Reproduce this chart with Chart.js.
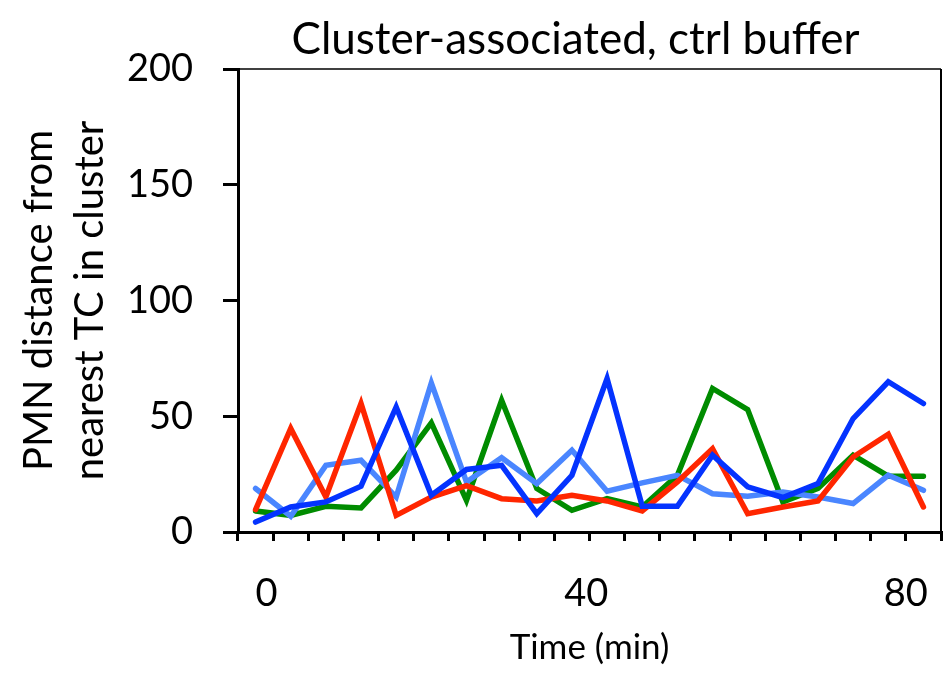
<!DOCTYPE html>
<html>
<head>
<meta charset="utf-8">
<script src="https://cdn.jsdelivr.net/npm/chart.js@4.4.1/dist/chart.umd.min.js"></script>
<style>
  html, body { margin: 0; padding: 0; background: #fff; }
  canvas { display: block; }
</style>
</head>
<body>
<canvas id="chart" width="944" height="677"></canvas>
<script>
// --- Dữ liệu ---
const chartTitle = "Cluster-associated, ctrl buffer";
const yTitle = ["PMN distance from", "nearest TC in cluster"];
const xTitle = "Time (min)";
const frames = ["1", "2", "3", "4", "5", "6", "7", "8", "9", "10", "11", "12", "13", "14", "15", "16", "17", "18", "19", "20"];
const timeTicks = [0, 40, 80];
const yTicks = [0, 50, 100, 150, 200];

const cellGreen = [9.1, 7.2, 11.1, 10.4, 26.7, 47.1, 13.7, 56.9, 18.8, 9.4, 14.4, 10.8, 24.5, 62.0, 52.9, 13.0, 18.8, 33.2, 24.1, 24.1];
const cellRed = [9.7, 44.7, 15.1, 55.5, 7.2, 15.1, 20.0, 14.4, 13.4, 15.9, 13.4, 9.1, 21.6, 36.0, 7.9, 10.8, 13.4, 32.4, 42.2, 10.8];
const cellSky = [18.8, 6.8, 28.8, 31.0, 15.1, 64.4, 21.6, 32.1, 20.9, 35.3, 17.6, 21.2, 24.5, 16.5, 15.4, 17.3, 15.1, 12.3, 24.5, 18.0];
const cellBlue = [4.3, 10.8, 13.0, 19.8, 54.0, 15.9, 27.0, 28.8, 7.9, 24.5, 66.3, 11.1, 11.1, 33.2, 19.5, 14.9, 20.9, 49.0, 64.9, 55.5];

// --- Kiểu ---
const FONT = "Lato";
const BLACK = "#000";

function line(data, color) {
    return {
        data, borderColor: color, backgroundColor: color, borderWidth: 5.5,
        pointRadius: 0, tension: 0, fill: false,
        borderJoinStyle: "miter", borderCapStyle: "round",
        xAxisID: "x", yAxisID: "y"
    };
}

// khung trên + phải, tiêu đề
const framePlugin = {
    id: "frame",
    afterDraw(chart) {
        const { ctx, chartArea: a } = chart;
        ctx.save();
        ctx.strokeStyle = BLACK;
        ctx.lineWidth = 1.5;
        ctx.beginPath();
        ctx.moveTo(a.left, a.top);
        ctx.lineTo(a.right, a.top);
        ctx.stroke();
        ctx.lineWidth = 2;
        ctx.beginPath();
        ctx.moveTo(a.right, a.top);
        ctx.lineTo(a.right, a.bottom);
        ctx.stroke();
        ctx.fillStyle = BLACK;
        ctx.font = "44px " + FONT;
        ctx.textAlign = "center";
        ctx.textBaseline = "middle";
        ctx.fillText(chartTitle, (a.left + a.right) / 2 - 14, 40);
        ctx.restore();
    }
};

const noPad = s => { s.paddingLeft = 0; s.paddingRight = 0; };

new Chart(document.getElementById("chart"), {
    type: "line",
    data: {
        labels: frames,
        datasets: [
            line(cellBlue, "#0433FF"),
            line(cellRed, "#FF2600"),
            line(cellSky, "#4A86FF"),
            line(cellGreen, "#008C00")
        ]
    },
    options: {
        responsive: false,
        animation: false,
        devicePixelRatio: 1,
        layout: { padding: { top: 69, right: 3, left: 0, bottom: 0 } },
        plugins: { legend: { display: false }, tooltip: { enabled: false }, title: { display: false } },
        scales: {
            x: {
                type: "category", position: "bottom", weight: 0, offset: true,
                afterFit: s => { noPad(s); s.height = 9; },
                grid: { display: true, offset: true, drawOnChartArea: false, drawTicks: true, tickLength: 9, lineWidth: 3, color: BLACK },
                border: { display: true, width: 3, color: BLACK },
                ticks: { display: false }
            },
            xt: {
                type: "linear", position: "bottom", weight: 1,
                min: -3.57, max: 84.4,
                afterBuildTicks: s => { s.ticks = timeTicks.map(v => ({ value: v })); },
                afterFit: s => { noPad(s); s.height = 136; },
                grid: { display: false, drawTicks: false },
                border: { display: false },
                ticks: { font: { family: FONT, size: 38 }, color: BLACK, padding: 30, maxRotation: 0, autoSkip: false },
                title: { display: true, text: xTitle, font: { family: FONT, size: 35 }, color: BLACK, padding: { top: 10, bottom: 8 } }
            },
            y: {
                min: 0, max: 200,
                afterBuildTicks: s => { s.ticks = yTicks.map(v => ({ value: v })); },
                afterFit: s => { s.width = 238; },
                grid: { display: true, drawOnChartArea: false, drawTicks: true, tickLength: 15, lineWidth: 3, color: BLACK },
                border: { display: true, width: 3, color: BLACK },
                ticks: { font: { family: FONT, size: 38 }, color: BLACK, padding: 30 },
                title: { display: true, text: yTitle, font: { family: FONT, size: 40, lineHeight: 1.275 }, color: BLACK, padding: { top: 14 } }
            }
        }
    },
    plugins: [framePlugin]
});
</script>
</body>
</html>
